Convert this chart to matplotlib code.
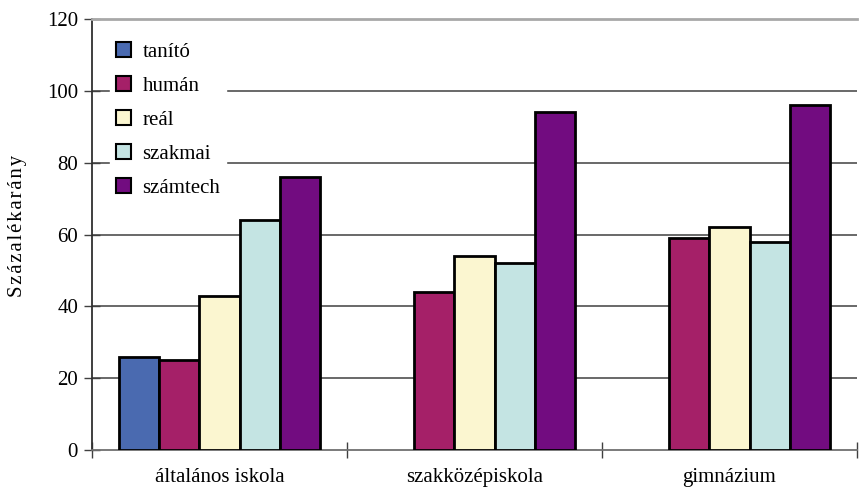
import matplotlib
matplotlib.use("Agg")
import matplotlib.pyplot as plt
import numpy as np

categories = ["általános iskola", "szakközépiskola", "gimnázium"]
series_names = ["tanító", "humán", "reál", "szakmai", "számtech"]
tanito = [26, 0, 0]
human = [25, 44, 59]
real = [43, 54, 62]
szakmai = [64, 52, 58]
szamtech = [76, 94, 96]
values = [tanito, human, real, szakmai, szamtech]
colors = ["#4A6AB0", "#A52068", "#FBF6D0", "#C4E4E3", "#720C80"]
yticks = [0, 20, 40, 60, 80, 100, 120]
ylabel = "Százalékarány"

plt.rcParams['font.family'] = ['Liberation Serif', 'DejaVu Serif']
FS = 15

fig = plt.figure(figsize=(8.62, 4.91), dpi=100)
ax = fig.add_axes([92/862, 1-450/491, (857-92)/862, (450-19)/491])

x = np.arange(len(categories))
n = len(series_names)
bw = 0.785 / n
for i, (name, vals, c) in enumerate(zip(series_names, values, colors)):
    vv = [v if v > 0 else np.nan for v in vals]
    ax.bar(x - 0.785/2 + bw*(i+0.5), vv, width=bw, color=c, edgecolor="black",
           linewidth=2, label=name, zorder=3)

ax.set_ylim(0, 120)
ax.set_xlim(-0.5, 2.5)
ax.set_yticks(yticks)
ax.set_yticklabels([str(t) for t in yticks], fontsize=FS)
ax.set_xticks(x)
ax.set_xticklabels(categories, fontsize=FS)
ax.tick_params(axis='x', length=0, pad=13)
ax.set_xticks([-0.5, 0.5, 1.5, 2.5], minor=True)
ax.tick_params(axis='x', which='minor', direction='inout', length=12, width=1, color='#404040')
ax.tick_params(axis='y', direction='inout', length=12, width=1, color='#404040', pad=4)

for t in [20, 40, 60, 80, 100]:
    ax.axhline(t, color='#404040', linewidth=1.1, zorder=1)

ax.spines['top'].set_color('#a8a8a8')
ax.spines['top'].set_linewidth(2)
ax.spines['right'].set_visible(False)
ax.spines['bottom'].set_color('#707070')
ax.spines['bottom'].set_linewidth(1.3)
ax.spines['left'].set_color('#303030')
ax.spines['left'].set_linewidth(1.3)

ax.set_ylabel("\u200a".join(ylabel), fontsize=FS)
ax.yaxis.set_label_coords(-0.085, 0.52)

leg = ax.legend(loc='upper left', bbox_to_anchor=(0.01, 0.985), frameon=True,
                fontsize=FS, handlelength=0.7, handleheight=0.7,
                labelspacing=0.69, handletextpad=0.55, borderpad=0.3)
leg.get_frame().set_edgecolor('white')
leg.get_frame().set_facecolor('white')
leg.get_frame().set_alpha(1)
leg.set_zorder(5)
for h in leg.legend_handles:
    h.set_linewidth(1.5)

fig.savefig("out.png", dpi=100)
